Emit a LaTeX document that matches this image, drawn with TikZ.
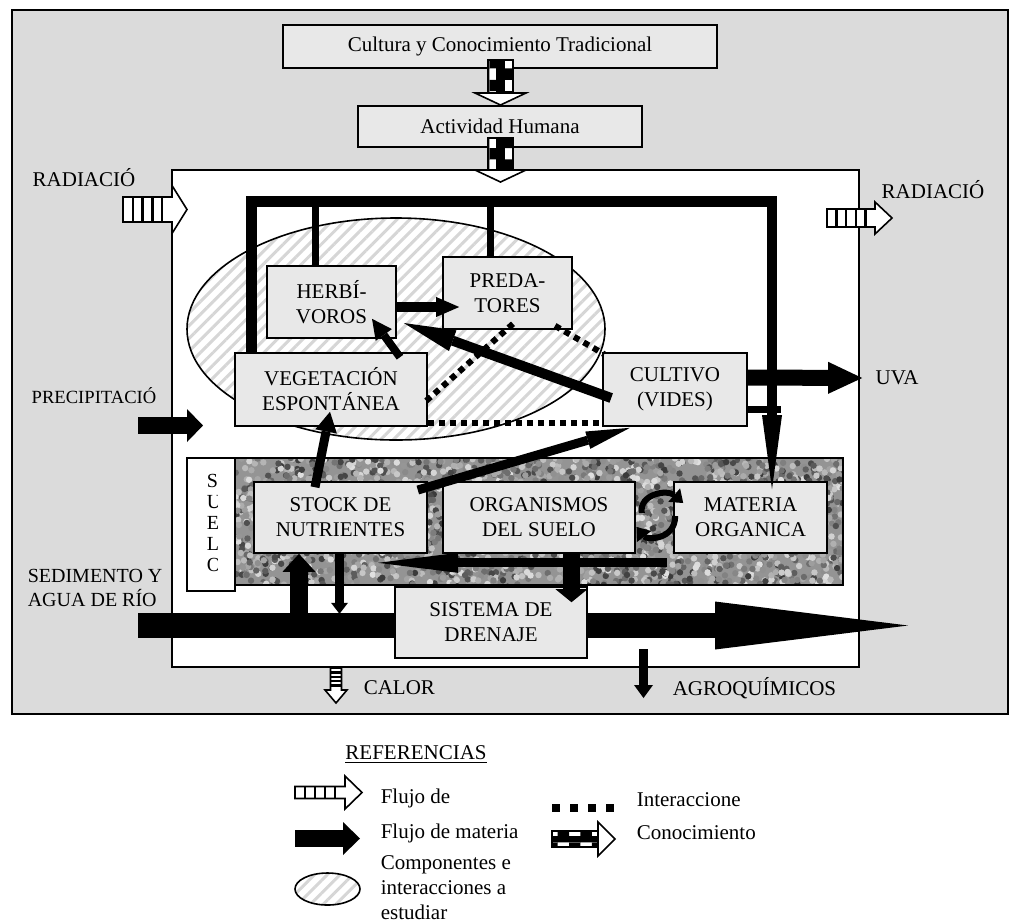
\documentclass[tikz,border=0pt]{standalone}
\usepackage{fontspec}
\setmainfont{Liberation Serif}
\usetikzlibrary{arrows.meta, positioning, calc, patterns, patterns.meta}
\tikzset{
    caja/.style={draw, fill=black!9, align=center, inner sep=0pt}, % cajas de los componentes
    grueso/.style args={#1/#2/#3}{line width=#1, -{Triangle[length=#2, width=#3, line width=0pt]}}, % flujo de materia
    interac/.style={line width=3pt, dash pattern=on 3pt off 2.5pt}, % interacciones
    rayado/.style={pattern={Lines[angle=45, distance=4.5pt, line width=1.5pt]}, pattern color=black!16},
    pics/rayo/.style n args={4}{code={ % flujo de energia
        \draw[fill=white] (0,-#2) -- (#1,-#2) -- (#1,-#3) -- (#1+#4,0) -- (#1,#3) -- (#1,#2) -- (0,#2) -- cycle;
        \foreach \s in {1,...,4} \draw[line width=1.2pt] (\s*#1/5,-#2) -- (\s*#1/5,#2);
    }},
    pics/saber/.style n args={4}{code={ % flujo de conocimiento
        \fill[white] (-#2,0) rectangle (#2,#1);
        \fill[pattern=checkerboard] (-#2,0) rectangle (#2,#1);
        \fill (-#2/3,0) rectangle (#2/3,#1);
        \draw (-#2,0) rectangle (#2,#1);
        \draw[fill=white] (-#3,#1) -- (0,#1+#4) -- (#3,#1) -- cycle;
    }},
}
\begin{document}
\begin{tikzpicture}[x=0.5pt, y=-0.5pt, line width=0.8pt, font=\fontsize{10.5}{12.5}\selectfont]
\useasboundingbox (0,0) rectangle (1010,922);
% fondo
\draw[fill=black!14] (12,10) rectangle (1008,714);
\draw[fill=white] (172,170) rectangle (859,667);
\draw[rayado] (396,329) ellipse [x radius=209, y radius=111];
% suelo
\begin{scope}
    \clip (235,458) rectangle (843,585);
    \fill[black!42] (235,458) rectangle (843,585);
    \pgfmathsetseed{7}
    \foreach \i in {1,...,2600}{
        \pgfmathsetmacro{\gx}{539+304*rand}
        \pgfmathsetmacro{\gy}{521.5+63.5*rand}
        \pgfmathsetmacro{\gc}{int(12+66*rnd)}
        \fill[black!\gc] (\gx,\gy) circle (1.6pt);
    }
\end{scope}
\draw (235,458) rectangle (843,585);
\node[draw, fill=white, minimum width=24pt, minimum height=66.5pt, inner sep=0pt] (suelo) at (211,524.5) {};
\begin{scope}
    \clip (187,458) rectangle (217,591);
    \node[anchor=north west, align=left, inner sep=0pt, font=\fontsize{10}{10.5}\selectfont] (letras) at (206,473) {S\\U\\E\\L\\O};
\end{scope}

% rio
\coordinate (rioin) at (138,625.5);
\coordinate (rioout) at (908,625.5);
\draw[grueso=12.5pt/96.5pt/24pt] (rioin) -- (rioout);

% componentes
\node[caja, minimum width=217pt, minimum height=21.5pt] (cultura) at (500,46.5) {Cultura y Conocimiento Tradicional};
\node[caja, minimum width=142pt, minimum height=20.5pt] (act) at (500,126.5) {Actividad Humana};
\node[caja, minimum width=64.5pt, minimum height=36pt] (herb) at (331.5,302) {HERBÍ-\\VOROS};
\node[caja, minimum width=64.5pt, minimum height=36pt] (pred) at (507.5,293) {PREDA-\\TORES};
\node[caja, minimum width=96pt, minimum height=36.5pt] (veg) at (331,389.5) {VEGETACIÓN\\ESPONTÁNEA};
\node[caja, minimum width=72pt, minimum height=36.5pt] (vides) at (675,389.5) {CULTIVO\\(VIDES)};
\node[caja, minimum width=86.5pt, minimum height=35.5pt] (stock) at (340.5,517.5) {STOCK DE\\NUTRIENTES};
\node[caja, minimum width=96pt, minimum height=35.5pt] (organ) at (539,517.5) {ORGANISMOS\\DEL SUELO};
\node[caja, minimum width=76.5pt, minimum height=35.5pt] (mater) at (750.5,517.5) {MATERIA\\ORGANICA};
\node[caja, minimum width=96pt, minimum height=35.5pt] (dren) at (491,622.5) {SISTEMA DE\\DRENAJE};

% textos
\node (radl) at (84,178) {RADIACIÓ};
\node (radr) at (933,190) {RADIACIÓ};
\node[font=\fontsize{9.3}{11}\selectfont] (prec) at (94,396) {PRECIPITACIÓ};
\node[anchor=west, align=left, inner sep=0pt, font=\fontsize{10}{12}\selectfont] (sed) at (27,588) {SEDIMENTO Y\\AGUA DE RÍO};
\node (uva) at (897,378) {UVA};
\node[anchor=west, inner sep=0pt] (calor) at (363,688) {CALOR};
\node[anchor=west, inner sep=0pt] (agro) at (672,688) {AGROQUÍMICOS};

% conocimiento y energia
\pic at (500.5,60) {saber={33}{12.5}{25.5}{12}};
\pic at (500.5,138) {saber={32}{12.5}{25.5}{12}};
\pic at (123,209.5) {rayo={49}{12.5}{24}{15}};
\pic at (827,218) {rayo={48}{9}{16}{17}};
\pic[rotate=-90] at (336,668) {rayo={22}{5.5}{11}{13}};

% marco de conexiones
\coordinate (tl) at (251,201.5);
\coordinate (tr) at (772,201.5);
\draw[line width=5.5pt] (tl |- veg.north) -- (tl) -- (tr);
\draw[line width=3.5pt] ([xshift=-8.25pt]herb.north) -- ([xshift=-8.25pt]herb.north |- tl);
\draw[line width=3.5pt] ([xshift=-8.5pt]pred.north) -- ([xshift=-8.5pt]pred.north |- tl);
\draw[grueso=5pt/37pt/10pt] ($(tr)+(0,-5.5)$) -- ($(tr |- mater.north)+(0,8)$);
\draw[line width=3.5pt] ($(vides.east)+(0,20)$) -- ++(33,0);

% flujos de materia
\coordinate (precin) at (138,425.5);
\coordinate (precfin) at (203,425.5);
\draw[grueso=8.5pt/8pt/16.5pt] (precin) -- (precfin);
\draw[grueso=8pt/17pt/16pt] ($(vides.east)+(0,-12)$) -- ($(uva.west)+(-6,0)$);
\draw[grueso=5pt/11.5pt/10pt] ($(herb.east)+(0,5)$) -- ($(pred.west)+(17,14)$);
\draw[grueso=4pt/10pt/10pt] ($(veg.north)+(69,5)$) -- ($(herb.south)+(40.5,-20)$);
\draw[grueso=5pt/26pt/11pt] ($(vides.west)+(9,8.5)$) -- ($(herb.east)+(7,21)$);
\draw[grueso=4.5pt/10pt/11pt] ($(stock.north)+(-25.5,6)$) -- ($(veg.south)+(-1,-15)$);
\draw[grueso=4.5pt/22pt/9pt] ($(stock.east)+(-10,-27.5)$) -- ($(vides.south)+(-45,1)$);
\draw[grueso=4.5pt/40pt/10pt] ($(mater.south west)+(-6,9)$) -- ($(stock.south)+(37.5,9)$);
\draw[grueso=8.5pt/6.5pt/16pt] ($(organ.south)+(32.5,0)$) -- ($(dren.north)+(80.5,16)$);
\draw[grueso=9pt/9pt/16.5pt] ($(stock.south)+(-41.5,72)$) -- ($(stock.south)+(-41.5,0)$);
\draw[grueso=4.5pt/5.5pt/8.5pt] ($(stock.south)+(-1,0)$) -- ($(stock.south)+(-1,60)$);
\coordinate (agroin) at (643.5,649);
\draw[grueso=4.5pt/6.5pt/9.5pt] (agroin) -- ($(agroin)+(0,49)$);

% ciclo organismos - materia organica
\draw[line width=3pt, -{Triangle[length=6pt, width=9pt, line width=0pt]}] ($(organ.east)+(6,-4.5)$) .. controls ($(organ.east)+(3,-23.5)$) and ($(mater.west)+(-6,-28.5)$) .. ($(mater.west)+(10,-14.5)$);
\draw[line width=3pt, -{Triangle[length=6pt, width=9pt, line width=0pt]}] ($(mater.west)+(2,-1.5)$) .. controls ($(mater.west)+(2,22.5)$) and ($(organ.east)+(11,22.5)$) .. ($(organ.east)+(1,9.5)$);

% interacciones
\draw[interac] ($(pred.south)+(5.5,-6)$) -- ($(veg.east)+(-4,13.5)$);
\draw[interac] ($(pred.south)+(47.5,-4)$) -- ($(vides.north west)+(2,2)$);
\draw[interac] ($(veg.south east)+(0,-4)$) -- ($(vides.south west)+(0,-4)$);

% referencias
\node (refs) at (416,755) {\underline{REFERENCIAS}};
\pic at (295,792.5) {rayo={50}{6}{16.5}{17}};
\node[anchor=west, inner sep=0pt] (l1) at (380,798) {Flujo de};
\coordinate (l2a) at (295,838.5);
\coordinate (l2b) at (360,838.5);
\draw[grueso=8.5pt/8.5pt/16.5pt] (l2a) -- (l2b);
\node[anchor=west, inner sep=0pt] (l2) at (380,833) {Flujo de materia};
\draw[rayado] (327.5,889) ellipse [x radius=32.5, y radius=16];
\node[anchor=west, align=left, inner sep=0pt] (l3) at (380,888) {Componentes e\\interacciones a\\estudiar};
\coordinate (l4a) at (552,808);
\coordinate (l4b) at (614,808);
\draw[interac, line width=4pt, dash pattern=on 4pt off 5pt] (l4a) -- (l4b);
\node[anchor=west, inner sep=0pt] (l4) at (636,800) {Interaccione};
\pic[rotate=90] at (552,839) {saber={46}{8}{17}{17}};
\node[anchor=west, inner sep=0pt] (l5) at (636,833) {Conocimiento};
\end{tikzpicture}
\end{document}
